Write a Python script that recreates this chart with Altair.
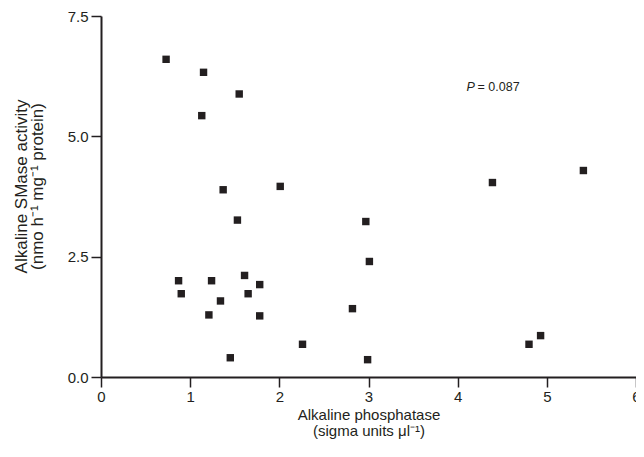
import altair as alt
import pandas as pd

# Data
alk_phos = [0.73, 1.15, 1.55, 1.13, 1.37, 2.01, 1.53, 2.97, 3.01, 0.87, 1.24, 1.61, 1.78,
            0.90, 1.65, 1.34, 1.21, 1.78, 2.82, 2.26, 1.45, 2.99, 5.41, 4.39, 4.93, 4.80]
smase = [6.60, 6.33, 5.88, 5.43, 3.89, 3.96, 3.26, 3.23, 2.40, 2.00, 2.00, 2.11, 1.92,
         1.73, 1.73, 1.58, 1.29, 1.27, 1.42, 0.68, 0.40, 0.36, 4.29, 4.04, 0.86, 0.68]

x_ticks = [0, 1, 2, 3, 4, 5, 6]
y_ticks = [0, 2.5, 5.0, 7.5]

ann_x = [4.1]
ann_y = [6.03]
ann_p = ["P"]
ann_rest = ["= 0.087"]

INK = "#231f20"
FONT = "Liberation Sans"

df = pd.DataFrame({"alk": alk_phos, "smase": smase})
ann = pd.DataFrame({"x": ann_x, "y": ann_y, "p": ann_p, "rest": ann_rest})

x_enc = alt.X(
    "alk:Q",
    scale=alt.Scale(domain=[0, 6], nice=False, zero=False),
    axis=alt.Axis(
        values=x_ticks,
        format="d",
        labelFlush=False,
        labelPadding=2,
        title=["Alkaline phosphatase", "(sigma units μl⁻¹)"],
        titleFontSize=15,
        titleLineHeight=16,
        titlePadding=3,
    ),
)
y_enc = alt.Y(
    "smase:Q",
    scale=alt.Scale(domain=[0, 7.5], nice=False, zero=False),
    axis=alt.Axis(
        values=y_ticks,
        format=".1f",
        title=["Alkaline SMase activity", "(nmo h⁻¹  mg⁻¹  protein)"],
        titleFontSize=17,
        titleLineHeight=16,
        titlePadding=21,
        titleY=170,
    ),
)

points = alt.Chart(df).mark_square(size=55, color=INK, opacity=1, filled=True).encode(
    x=x_enc, y=y_enc
)

p_text = alt.Chart(ann).mark_text(
    align="left", baseline="middle", fontStyle="italic", fontSize=12.5, color=INK, font=FONT
).encode(x=alt.X("x:Q"), y=alt.Y("y:Q"), text="p:N")

rest_text = alt.Chart(ann).mark_text(
    align="left", baseline="middle", fontSize=12.5, color=INK, font=FONT, dx=11
).encode(x=alt.X("x:Q"), y=alt.Y("y:Q"), text="rest:N")

chart = (
    alt.layer(points, p_text, rest_text)
    .properties(
        width=535,
        height=361,
        autosize=alt.AutoSizeParams(type="none"),
        padding={"left": 93, "top": 8, "right": 0, "bottom": 66},
        background="white",
    )
    .configure(font=FONT)
    .configure_view(stroke=None)
    .configure_axis(
        grid=False,
        domainColor=INK,
        domainWidth=2,
        tickColor=INK,
        tickWidth=1.5,
        tickSize=10,
        labelFontSize=15,
        labelColor=INK,
        labelPadding=3,
        titleColor=INK,
        titleFontWeight="normal",
        labelFont=FONT,
        titleFont=FONT,
    )
)

chart.save("out.html", embed_options={"renderer": "svg", "actions": False})
